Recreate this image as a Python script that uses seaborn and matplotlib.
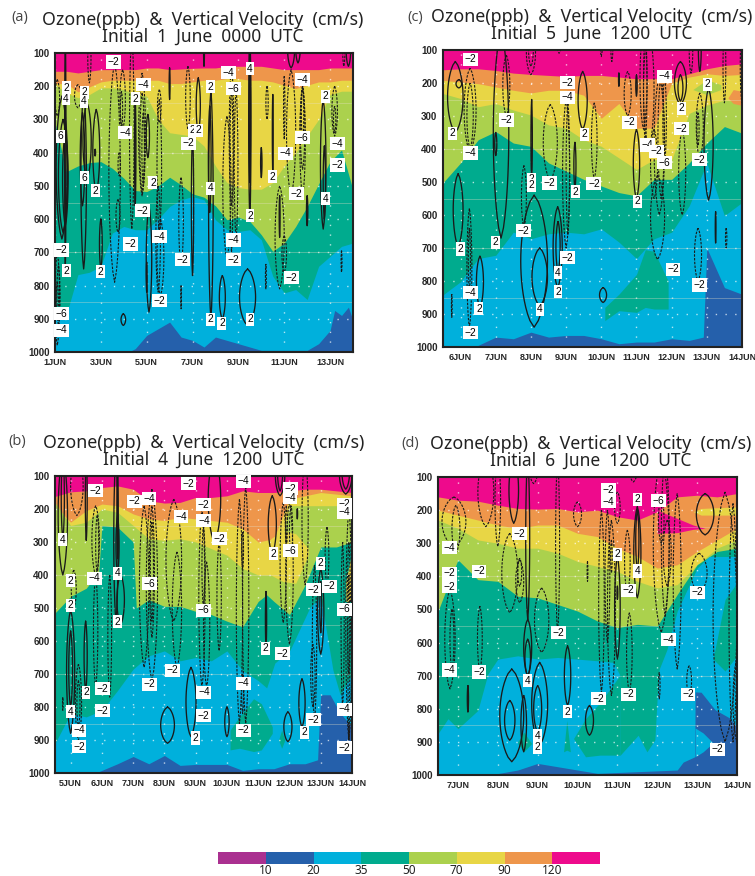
import numpy as np
import pandas as pd
import matplotlib
matplotlib.use("Agg")
import matplotlib.pyplot as plt
from matplotlib.colors import ListedColormap
import seaborn as sns

band_colors = ["#AA3090", "#2560AB", "#00B0DC", "#00AB8E", "#ABD14D", "#E8D645", "#EE964B", "#EE0A8C"]
band_labels = ["10", "20", "35", "50", "70", "90", "120"]
pressure_ticks = [100, 200, 300, 400, 500, 600, 700, 800, 900, 1000]

# ---- panel a: ozone band edges (hPa)
a_days = [1, 1.5, 2, 2.5, 3, 3.5, 4, 4.5, 5, 5.5, 6, 6.5, 7, 7.5, 8, 8.5, 9, 9.5, 10, 10.5, 11, 11.5, 12, 12.5, 13, 13.5, 14]
a_o120 = [155, 155, 160, 155, 150, 150, 150, 150, 145, 145, 150, 148, 146, 145, 145, 140, 140, 140, 140, 145, 150, 150, 150, 150, 145, 145, 145]
a_o90 = [192, 192, 217, 202, 187, 182, 182, 182, 182, 182, 192, 192, 187, 182, 182, 177, 177, 182, 182, 187, 197, 207, 197, 187, 187, 182, 182]
a_o70 = [195, 220, 235, 225, 205, 205, 210, 225, 230, 300, 340, 345, 350, 380, 440, 490, 505, 510, 510, 490, 440, 400, 350, 300, 225, 215, 215]
a_o50 = [310, 457, 440, 430, 427, 447, 477, 514, 517, 500, 474, 497, 524, 534, 560, 602, 594, 607, 647, 697, 672, 622, 562, 494, 427, 392, 512]
a_o35 = [892, 887, 767, 760, 742, 642, 622, 632, 632, 600, 562, 542, 532, 542, 602, 632, 637, 632, 662, 772, 822, 812, 842, 742, 712, 682, 672]
a_d20 = [1, 4.2, 4.5, 5, 5.5, 6, 6.5, 7, 7.5, 8, 8.5, 9, 9.5, 10, 12, 12.5, 13, 13.2, 13.5, 13.8, 14]
a_o20 = [1000, 1000, 990, 950, 930, 910, 955, 965, 985, 955, 965, 975, 985, 995, 995, 975, 935, 875, 890, 865, 905]

# ---- panel a: vertical velocity cells
a_w_day = [1.3, 1.35, 1.45, 1.45, 2.25, 2.2, 2.4, 2.8, 2.75, 3, 3.98, 4.5, 5.05, 5.1, 5, 6, 7, 7.25, 7.8, 7.75, 8.3, 9.4, 9.5, 9.5, 10, 10.5, 10.8, 12, 12.7, 12.75, 11.3, 11.6, 13.8, 7.5,
           1.1, 1.1, 1.15, 1.1, 2, 2.5, 3.6, 3.75, 3.95, 3.9, 3.8, 4.35, 4.8, 4.8, 4.85, 5.55, 5.55, 5.5, 5.6, 6.5, 6.5, 6.8, 8.5, 8.7, 8.7, 8.9, 10.25, 10.2, 11, 10.8, 11, 11.3, 11.8, 11.8, 11.8, 13.2, 13.2, 13.5, 13.6]
a_w_top = [230, 300, 340, 100, 210, 280, 250, 270, 390, 600, 885, 230, 285, 560, 730, 145, 340, 175, 210, 260, 770, 750, 100, 100, 385, 225, 530, 530, 240, 380, 100, 100, 100, 100,
           180, 700, 740, 790, 195, 100, 130, 540, 150, 215, 400, 100, 160, 220, 280, 240, 210, 500, 600, 475, 800, 140, 290, 140, 200, 210, 200, 735, 650, 500, 170, 150, 200, 200, 200, 200, 260, 695, 100]
a_w_bot = [660, 640, 620, 750, 750, 560, 480, 520, 410, 750, 920, 560, 415, 880, 820, 240, 770, 340, 900, 580, 900, 920, 600, 490, 475, 460, 655, 620, 630, 600, 145, 130, 140, 140,
           290, 980, 920, 900, 265, 190, 790, 640, 330, 330, 470, 630, 530, 520, 500, 640, 310, 820, 830, 740, 870, 330, 720, 560, 700, 660, 300, 810, 760, 810, 360, 530, 530, 450, 370, 350, 340, 760, 140]
a_w_wid = [.25, .2, .12, .03, .12, .1, .18, .15, .02, .06, .1, .03, .07, .12, .02, .02, .05, .09, .1, .06, .13, .35, .05, .03, .03, .02, .02, .03, .12, .05, .15, .1, .1, .02,
           .1, .1, .07, .05, .15, .07, .25, .09, .12, .05, .05, .1, .15, .1, .06, .1, .08, .1, .15, .1, .01, .1, .18, .1, .07, .08, .05, .02, .1, .2, .03, .2, .12, .1, .05, .12, .05, .02, .05]
a_w_val = [2, 4, 6, 2, 2, 4, 2, 2, 2, 2, 2, 2, 2, 2, 4, 2, 2, 2, 2, 4, 2, 2, 2, 4, 2, 2, 2, 2, 2, 4, 2, 2, 2, 2,
           -2, -2, -4, -6, -2, -2, -2, -2, -2, -4, -2, -2, -2, -4, -6, -2, -2, -4, -2, -2, -2, -2, -2, -2, -4, -6, -2, -2, -2, -2, -2, -2, -2, -4, -6, -2, -4, -2, -2]
a_lab_day = [3.55, 8.57, 9.51, 11.8, 4.86, 8.79, 1.51, 2.27, 7.77, 12.79, 1.48, 2.27, 4.52, 1.25, 4.06, 7.01, 7.26, 6.82, 11.8, 13.33, 11.04, 13.33, 2.27, 2.75, 5.27, 7.77, 10.5, 11.55, 12.79, 4.81, 9.51, 5.56, 4.3, 8.79, 1.29, 6.56, 8.79, 1.51, 3, 11.3, 5.56, 1.29, 1.29, 7.77, 8.28, 9.51]
a_lab_p = [127, 160, 147, 180, 195, 208, 205, 218, 202, 230, 238, 245, 238, 350, 340, 332, 332, 372, 355, 373, 402, 437, 475, 515, 490, 507, 472, 523, 538, 575, 590, 653, 675, 663, 693, 722, 722, 755, 758, 776, 845, 885, 935, 902, 913, 902]
a_lab_val = [-2, -4, 4, -4, -4, -6, 2, 2, 2, 2, 4, 4, 2, 6, -4, 2, 2, -2, -6, -4, -4, -2, 6, 2, 2, 4, 2, -2, 4, -2, 2, -4, -2, -4, -2, -2, -2, 2, 2, -2, -2, -6, -4, 2, 2, 2]

# ---- panel b
b_days = [4.5, 5, 5.5, 6, 6.5, 7, 7.5, 8, 8.5, 9, 9.5, 10, 10.5, 11, 11.5, 12, 12.5, 13, 13.5, 14]
b_o120 = [162, 148, 145, 135, 130, 140, 175, 182, 180, 165, 165, 160, 145, 150, 150, 145, 140, 140, 145, 150]
b_o90 = [190, 240, 205, 185, 190, 215, 230, 235, 225, 230, 235, 240, 260, 300, 290, 170, 160, 150, 155, 160]
b_o70 = [180, 250, 240, 200, 210, 250, 290, 295, 290, 300, 320, 340, 380, 400, 400, 190, 190, 190, 190, 190]
b_d50 = [4.5, 5, 5.5, 5.9, 6, 6.5, 7, 7.1, 7.5, 8, 8.5, 9, 9.5, 10, 10.5, 11, 11.27, 11.5, 12, 12.5, 13, 13.5, 14]
b_o50 = [515, 465, 440, 390, 250, 255, 300, 500, 475, 495, 495, 510, 520, 540, 557, 480, 460, 480, 520, 430, 315, 315, 300]
b_d35 = [4.5, 5, 5.5, 6, 6.5, 7, 7.5, 8, 8.5, 9, 9.5, 10, 10.5, 11, 11.27, 11.53, 12.02, 12.66, 13, 13.2, 13.39, 13.62, 14]
b_o35 = [910, 820, 830, 810, 750, 685, 645, 630, 660, 650, 660, 630, 690, 720, 742, 667, 627, 497, 466, 580, 688, 763, 700]
b_d20 = [4.5, 5.8, 6.5, 7, 7.5, 8, 8.5, 9, 10, 10.5, 11, 11.5, 12, 12.5, 12.9, 12.95, 13, 13.3, 13.62, 14]
b_o20 = [1000, 1000, 972, 950, 972, 947, 977, 974, 974, 992, 987, 987, 972, 972, 960, 850, 763, 763, 818, 860]
b_isl1_days = [10.1, 10.4, 10.85, 11.1, 11.45]
b_isl1_top = [870, 830, 775, 790, 860]
b_isl1_bot = [930, 925, 935, 930, 880]
b_isl2_days = [11.65, 11.75, 11.85]
b_isl2_top = [900, 870, 900]
b_isl2_bot = [900, 925, 900]
b_isl3_days = [11.4, 11.8, 12.2, 12.6]
b_isl3_top = [290, 265, 275, 320]
b_isl3_bot = [400, 420, 425, 340]
b_isl4_days = [13.8, 14]
b_isl4_top = [420, 330]
b_isl4_bot = [480, 480]

b_w_day = [4.75, 4.75, 5.5, 5, 5, 5.48, 6.45, 6.5, 6.6, 6.5, 8.1, 8.85, 10, 9.6, 11.25, 11.45, 11.95, 12.4, 13, 13, 12.25, 11.7, 11.7, 13.8, 13.8,
           5.2, 5.8, 5.85, 5.1, 5.25, 5.25, 4.75, 5.8, 6.25, 7.35, 7.6, 7.6, 7.6, 8.3, 8.4, 9.2, 9.25, 9.35, 9.75, 10.4, 10.5, 10.6, 10.5, 11.8, 12, 12.05, 11.9, 12.5, 12.8, 13.2, 13.7, 13.9, 13.9, 13.9, 12.75]
b_w_top = [100, 100, 100, 505, 570, 540, 100, 220, 400, 100, 800, 680, 800, 100, 450, 160, 815, 715, 380, 420, 200, 100, 100, 100, 100,
           100, 190, 220, 385, 670, 720, 770, 400, 400, 190, 140, 190, 240, 170, 330, 200, 250, 360, 300, 170, 270, 130, 700, 180, 180, 190, 190, 100, 370, 255, 300, 200, 300, 400, 610]
b_w_bot = [400, 290, 295, 880, 800, 750, 540, 400, 550, 350, 910, 890, 890, 300, 620, 335, 905, 860, 640, 575, 230, 160, 145, 155, 140,
           220, 400, 395, 500, 900, 860, 810, 740, 770, 680, 720, 590, 540, 540, 680, 740, 500, 740, 630, 850, 380, 850, 820, 545, 610, 340, 320, 430, 840, 430, 800, 900, 700, 900, 800]
b_w_wid = [.15, .05, .03, .13, .06, .05, .07, .05, .12, .02, .22, .16, .07, .2, .02, .13, .13, .1, .1, .03, .01, .15, .08, .2, .12,
           .2, .12, .05, .08, .1, .05, .01, .07, .06, .15, .18, .08, .05, .25, .15, .1, .05, .1, .07, .1, .03, .1, .03, .1, .12, .05, .03, .1, .07, .06, .05, .1, .05, .03, .07]
b_w_val = [2, 4, 2, 2, 4, 2, 2, 4, 2, 2, 2, 2, 2, 2, 2, 2, 2, 2, 2, 4, 2, 2, 4, 2, 4,
           -2, -2, -4, -2, -2, -4, -2, -2, -2, -2, -2, -4, -6, -2, -2, -2, -4, -2, -2, -2, -4, -2, -4, -2, -2, -4, -6, -2, -2, -2, -2, -2, -4, -6, -2]
b_lab_day = [5.8, 7.03, 7.51, 8.78, 10.53, 12.02, 12.02, 9.26, 8.53, 9.26, 13.77, 13.77, 4.73, 9.77, 11.49, 12.02, 12.99, 6.49, 5, 5.77, 7.51, 12.76, 13.27, 5, 9.26, 13.77, 6.49, 11.24, 11.77, 8.27, 7.51, 10.53, 5.49, 6.02, 9.26, 6.02, 5, 13.77, 9.26, 12.76, 5.27, 10.53, 12.49, 5.27, 13.77, 8.99]
b_lab_p = [145, 177, 169, 124, 116, 139, 166, 187, 223, 236, 186, 210, 293, 290, 335, 326, 365, 395, 418, 410, 427, 444, 434, 492, 507, 504, 541, 622, 638, 689, 731, 728, 756, 744, 755, 811, 814, 807, 826, 838, 870, 871, 877, 921, 924, 894]
b_lab_val = [-2, -2, -4, -2, -4, -2, -4, -2, -4, -4, -2, -4, 4, -2, 2, -6, 2, 4, 2, -4, -6, -2, -2, 2, -6, -6, 2, 2, -2, -2, -2, -4, 2, -2, -4, -2, 4, -4, -2, -2, -4, -2, 2, -2, -2, 2]

# ---- panel c
c_days = [5.5, 6, 6.5, 7, 7.5, 8, 8.5, 9, 9.5, 10, 10.5, 11, 11.5, 12, 12.5, 13, 13.5, 14]
c_o120 = [160, 157, 157, 162, 170, 174, 177, 180, 177, 177, 182, 187, 187, 187, 172, 157, 147, 142]
c_o90 = [192, 197, 202, 212, 222, 230, 222, 222, 237, 307, 262, 337, 337, 200, 182, 172, 177, 174]
c_o70 = [232, 247, 272, 262, 282, 297, 327, 337, 372, 392, 427, 462, 432, 432, 292, 267, 252, 257]
c_o50 = [502, 442, 372, 347, 382, 392, 442, 467, 492, 512, 532, 542, 492, 492, 442, 382, 332, 352]
c_o35 = [842, 802, 732, 722, 652, 672, 657, 652, 657, 642, 682, 732, 672, 652, 572, 442, 602, 562]
c_d20 = [5.5, 6.4, 7, 7.5, 8, 8.5, 9, 9.5, 10, 10.5, 11, 11.5, 12, 12.5, 12.9, 13, 13.5, 14]
c_o20 = [1000, 1000, 970, 975, 955, 970, 965, 965, 975, 990, 985, 985, 975, 980, 970, 700, 820, 840]
c_isl1_days = [10.1, 10.5, 11, 11.25, 11.5, 11.9]
c_isl1_top = [880, 840, 780, 705, 710, 800]
c_isl1_bot = [920, 890, 895, 880, 885, 885]
c_isl2_days = [13.6, 13.75, 14]
c_isl2_top = [245, 220, 225]
c_isl2_bot = [245, 262, 268]
c_isl3_days = [12.6, 13, 13.4]
c_isl3_top = [220, 190, 205]
c_isl3_bot = [220, 235, 220]

c_w_day = [5.85, 5.95, 5.93, 6.55, 7.15, 7, 8.02, 8.09, 8.25, 8.76, 8.77, 9.25, 9.47, 10.05, 10.5, 11, 11, 12.25, 12.25, 13.05, 13.25, 12.8,
           6.27, 6.27, 6.25, 6.25, 5.75, 7.3, 7.8, 8.55, 9, 9.05, 9.8, 10.75, 11.2, 11.25, 11.35, 11.65, 11.7, 11.8, 11.5, 11.6, 12.3, 12.8, 12.75, 12.75, 13.55, 13.5, 14, 8, 8, 8.8, 10, 10.3, 12.55]
c_w_top = [135, 190, 475, 725, 100, 350, 250, 540, 700, 575, 620, 380, 165, 820, 170, 175, 340, 135, 175, 215, 590, 100,
           155, 200, 580, 640, 840, 115, 450, 265, 250, 260, 260, 165, 100, 100, 100, 180, 180, 180, 340, 480, 340, 230, 290, 640, 640, 100, 100, 100, 100, 100, 100, 100, 100]
c_w_bot = [350, 215, 695, 880, 670, 420, 490, 940, 875, 820, 770, 520, 340, 865, 210, 240, 550, 265, 255, 555, 685, 165,
           410, 400, 940, 830, 910, 300, 640, 495, 700, 660, 490, 300, 340, 380, 400, 600, 550, 440, 550, 735, 600, 430, 390, 800, 700, 260, 260, 175, 150, 110, 120, 135, 170]
c_w_wid = [.22, .08, .14, .1, .22, .03, .02, .38, .22, .13, .06, .03, .13, .1, .01, .02, .09, .17, .07, .13, .01, .04,
           .17, .09, .07, .03, .01, .1, .07, .2, .1, .05, .08, .1, .1, .05, .15, .15, .09, .05, .1, .2, .1, .1, .03, .1, .02, .04, .05, .13, .07, .07, .03, .03, .05]
c_w_val = [2, 2, 2, 2, 2, 4, 2, 2, 4, 2, 4, 2, 2, 2, 2, 2, 2, 2, 4, 2, 2, 2,
           -2, -4, -2, -4, -2, -2, -2, -2, -2, -4, -2, -2, -2, -4, -2, -2, -4, -6, -2, -2, -2, -2, -4, -2, -2, -2, -2, -2, -4, -2, -2, -2, -2]
c_lab_day = [6.29, 9.04, 9.04, 11.79, 13.02, 12.28, 12.29, 7.31, 10.79, 5.76, 9.52, 11.31, 11.57, 6.29, 11.79, 12.79, 8.02, 8.02, 8.53, 9.79, 9.26, 11.02, 7.79, 6, 7, 9.04, 12.04, 8.77, 12.79, 6.29, 8.77, 6.52, 8.26, 6.29]
c_lab_p = [128, 199, 243, 179, 204, 276, 338, 312, 319, 352, 355, 388, 407, 412, 441, 433, 492, 510, 503, 505, 530, 559, 648, 703, 682, 730, 765, 775, 812, 836, 833, 884, 886, 957]
c_lab_val = [-2, -2, -4, -4, 2, 2, -2, -2, -2, 2, 2, -4, -2, -4, -6, -2, 2, 2, -2, -2, 2, 2, -2, 2, 2, -2, -2, 4, -2, -4, 2, 2, 4, -2]

# ---- panel d
d_days = [6.5, 7, 7.5, 8, 8.5, 9, 9.5, 10, 10.5, 11, 11.5, 12, 12.5, 13, 13.5, 14]
d_o120 = [160, 170, 173, 185, 195, 197, 195, 205, 200, 220, 230, 205, 160, 155, 160, 150]
d_o90 = [200, 215, 230, 245, 255, 245, 245, 270, 280, 315, 340, 375, 365, 325, 290, 255]
d_o70 = [230, 255, 290, 300, 315, 315, 330, 355, 370, 385, 415, 435, 425, 365, 315, 290]
d_o50 = [505, 350, 410, 415, 460, 465, 485, 505, 535, 555, 545, 550, 455, 365, 325, 315]
d_d35 = [6.5, 6.75, 7, 7.5, 7.75, 8, 8.5, 9, 9.5, 10, 10.5, 10.9, 11.06, 11.07, 11.52, 11.74, 11.94, 12, 12.05, 12.24, 12.5, 13, 13.3, 14]
d_o35 = [875, 830, 860, 805, 695, 650, 640, 650, 645, 650, 655, 660, 698, 940, 880, 930, 894, 760, 680, 622, 505, 375, 340, 340]
d_d20 = [6.5, 7.8, 8.5, 9, 9.5, 10, 10.5, 12.5, 12.65, 12.94, 12.95, 13.1, 13.45, 13.82, 14]
d_o20 = [1000, 1000, 985, 965, 975, 985, 995, 985, 961, 945, 749, 750, 803, 828, 855]
d_isl1_days = [13.4, 13.7, 14]
d_isl1_top = [650, 470, 420]
d_isl1_bot = [650, 686, 640]
d_isl2_days = [9.65, 9.73, 9.82]
d_isl2_top = [930, 835, 930]
d_isl2_bot = [930, 925, 930]
d_isl3_days = [12, 12.5, 12.9, 13.2]
d_isl3_top = [200, 225, 245, 255]
d_isl3_bot = [270, 268, 258, 255]
d_isl4_days = [12.9, 13.1, 14]
d_isl4_top = [205, 195, 190]
d_isl4_bot = [205, 215, 215]
d_isl5_days = [9.9, 10.2, 10.56, 11.07]
d_isl5_top = [890, 830, 782, 698]
d_isl5_bot = [890, 945, 940, 940]
d_isl6_days = [8.5, 8.65, 8.85]
d_isl6_top = [900, 870, 905]
d_isl6_bot = [905, 930, 905]
d_isl7_days = [12.95, 13.15, 13.4]
d_isl7_top = [858, 873, 903]
d_isl7_bot = [945, 930, 903]

d_w_day = [7.25, 8.35, 8.3, 8.75, 8.75, 8.65, 8.4, 8.75, 9, 9.05, 9.75, 10.3, 11, 11, 11.5, 11.5, 13.2,
           6.9, 6.95, 6.8, 6.85, 7.55, 7.7, 8, 8.3, 8.55, 8.55, 9.1, 9.5, 10, 10.25, 10.6, 10.75, 10.85, 10.85, 11, 11.25, 11.3, 12.1, 12.2, 12.25, 12.1, 12.5, 12.8, 12.05, 13.05, 13.7, 13.9, 14, 11.4, 8.9]
d_w_top = [730, 680, 775, 530, 590, 760, 100, 100, 730, 660, 610, 790, 340, 430, 190, 200, 150,
           160, 185, 440, 500, 490, 100, 100, 270, 345, 350, 435, 100, 175, 355, 200, 200, 230, 290, 145, 260, 510, 100, 100, 230, 160, 150, 670, 690, 330, 145, 180, 650, 100, 100]
d_w_bot = [810, 960, 895, 700, 700, 930, 240, 530, 870, 910, 790, 880, 650, 470, 465, 380, 275,
           310, 330, 740, 680, 685, 250, 310, 510, 430, 480, 630, 570, 250, 415, 750, 600, 760, 390, 240, 450, 750, 570, 520, 430, 300, 680, 760, 770, 450, 900, 900, 900, 115, 120]
d_w_wid = [.015, .3, .13, .1, .07, .07, .12, .05, .1, .2, .08, .1, .07, .01, .09, .04, .22,
           .3, .1, .13, .05, .06, .2, .07, .2, .05, .1, .18, .05, .1, .01, .07, .06, .1, .02, .07, .07, .07, .2, .1, .1, .07, .1, .06, .02, .2, .3, .1, .1, .1, .1]
d_w_val = [2, 2, 2, 2, 4, 2, 2, 2, 4, 2, 2, 2, 2, 4, 2, 4, 2,
           -2, -2, -2, -4, -2, -2, -2, -2, -4, -2, -2, -2, -2, -2, -2, -2, -2, -4, -2, -2, -2, -2, -2, -2, -4, -2, -2, -2, -2, -2, -2, -2, -2, -2]
d_lab_day = [10.78, 10.78, 11.5, 12.03, 8.54, 6.78, 11, 7.53, 6.78, 6.78, 11.5, 11.28, 13.01, 9.52, 12.28, 6.78, 7.53, 8.75, 11.28, 12.77, 10.52, 9.75, 9, 9, 13.52]
d_lab_p = [139, 174, 167, 171, 272, 313, 334, 385, 391, 431, 384, 442, 448, 570, 591, 683, 689, 715, 756, 756, 769, 809, 881, 916, 922]
d_lab_val = [-2, -4, 2, -6, -2, -4, 2, -2, -2, -2, 4, -2, -2, -2, -4, -4, -2, 4, -2, -2, -2, 2, 4, 2, -2]


def cell_outline(day, top, bot, wid):
    # narrow closed contour around one velocity cell
    if top <= 100:
        top = 40
    s = np.linspace(-1, 1, 21)
    half = wid * (1 - s ** 2) ** 0.7
    mid = (top + bot) / 2
    ys = mid + s * (bot - top) / 2
    return np.r_[day - half, day + half[::-1]], np.r_[ys, ys[::-1]]


def draw_panel(box, xlim, tick_days, title1, title2, bands, islands, cells, labels, letter, letter_xy):
    left, top, right, bot = box
    ax = fig.add_axes([left / W, 1 - bot / H, (right - left) / W, (bot - top) / H])
    ax.set_facecolor(band_colors[7])
    for (days, edge), col in zip(bands, band_colors[6:0:-1]):
        ax.fill_between(days, edge, 1000, color=col, lw=0, zorder=1)
    for days, up, low, idx in islands:
        ax.fill_between(days, up, low, color=band_colors[idx], lw=0, zorder=1.5)

    ax.set_xlim(*xlim)
    ax.set_ylim(1000, 100)
    # GrADS style dotted grid plus the faint level lines
    for p in pressure_ticks[1:-1]:
        ax.axhline(p, color="white", lw=1, ls=(0, (1, 6)), alpha=.7, zorder=2)
    for d in tick_days:
        ax.axvline(d, color="white", lw=1, ls=(0, (1, 6)), alpha=.7, zorder=2)
    for p in [250, 400, 550, 700, 850]:
        ax.axhline(p, color="#e8e0c8", lw=.6, alpha=.4, zorder=2)

    rows = []
    for n, (day, t, b, wd, val) in enumerate(zip(*cells)):
        xs, ys = cell_outline(day, t, b, wd)
        rows.append(pd.DataFrame({"day": xs, "p": ys, "id": n, "val": val}))
    df = pd.concat(rows)
    sns.lineplot(data=df[df.val > 0], x="day", y="p", units="id", estimator=None, sort=False,
                 color="#1a1a1a", lw=.95, ax=ax, legend=False, zorder=3)
    sns.lineplot(data=df[df.val < 0], x="day", y="p", units="id", estimator=None, sort=False,
                 color="#1a1a1a", lw=.8, linestyle=(0, (2.2, 1.2)), ax=ax, legend=False, zorder=3)

    for d, p, v in zip(*labels):
        txt = ("\u2212" + str(-v)) if v < 0 else str(v)
        ax.text(d, p, txt, fontsize=7.4, ha="center", va="center", color="black", zorder=5,
                family="Liberation Sans",
                bbox=dict(facecolor="white", edgecolor="none", pad=1.1))

    ax.set_xlabel("")
    ax.set_ylabel("")
    ax.set_yticks(pressure_ticks)
    ax.set_yticklabels([str(p) for p in pressure_ticks], fontsize=7, fontweight="bold", family="Liberation Sans")
    ax.set_xticks(tick_days)
    ax.set_xticklabels([f"{d}JUN" for d in tick_days], fontsize=6.5, fontweight="bold", family="Liberation Sans")
    ax.tick_params(length=2.5, width=.8, pad=1.5, color="black")
    for s in ax.spines.values():
        s.set_visible(True)
        s.set_linewidth(1.5)
        s.set_color("#222222")

    cx = (left + right) / 2 + title1[1]
    fig.text(cx / W, 1 - title1[2] / H, title1[0], fontsize=12.8, ha="center", va="center", family="Noto Sans", color="#222222")
    fig.text(cx / W, 1 - (title1[2] + 17) / H, title2, fontsize=12.5, ha="center", va="center", family="Noto Sans", color="#222222")
    fig.text(letter_xy[0] / W, 1 - letter_xy[1] / H, letter, fontsize=10.5, ha="left", va="center", family="Open Sans", color="#444444")


W, H = 755, 876
sns.set_style("white")
fig = plt.figure(figsize=(W / 100, H / 100), dpi=100, facecolor="white")

TITLE = "Ozone(ppb)  &  Vertical Velocity  (cm/s)"

draw_panel((55, 53, 353, 352), (1, 14), [1, 3, 5, 7, 9, 11, 13],
           (TITLE, -1, 20), "Initial  1  June  0000  UTC",
           [(a_days, a_o120), (a_days, a_o90), (a_days, a_o70), (a_days, a_o50), (a_days, a_o35), (a_d20, a_o20)],
           [], (a_w_day, a_w_top, a_w_bot, a_w_wid, a_w_val), (a_lab_day, a_lab_p, a_lab_val), "(a)", (11, 18))

draw_panel((443, 50, 742, 347), (5.5, 14), [6, 7, 8, 9, 10, 11, 12, 13, 14],
           (TITLE, -1, 17), "Initial  5  June  1200  UTC",
           [(c_days, c_o120), (c_days, c_o90), (c_days, c_o70), (c_days, c_o50), (c_days, c_o35), (c_d20, c_o20)],
           [(c_isl1_days, c_isl1_top, c_isl1_bot, 3), (c_isl2_days, c_isl2_top, c_isl2_bot, 6), (c_isl3_days, c_isl3_top, c_isl3_bot, 4)],
           (c_w_day, c_w_top, c_w_bot, c_w_wid, c_w_val), (c_lab_day, c_lab_p, c_lab_val), "(c)", (407, 17))

draw_panel((55, 476, 352, 773), (4.5, 14), [5, 6, 7, 8, 9, 10, 11, 12, 13, 14],
           (TITLE, 0, 443), "Initial  4  June  1200  UTC",
           [(b_days, b_o120), (b_days, b_o90), (b_days, b_o70), (b_d50, b_o50), (b_d35, b_o35), (b_d20, b_o20)],
           [(b_isl1_days, b_isl1_top, b_isl1_bot, 3), (b_isl2_days, b_isl2_top, b_isl2_bot, 3), (b_isl3_days, b_isl3_top, b_isl3_bot, 5), (b_isl4_days, b_isl4_top, b_isl4_bot, 5)],
           (b_w_day, b_w_top, b_w_bot, b_w_wid, b_w_val), (b_lab_day, b_lab_p, b_lab_val), "(b)", (8, 441))

draw_panel((438, 477, 737, 775), (6.5, 14), [7, 8, 9, 10, 11, 12, 13, 14],
           (TITLE, 3, 444), "Initial  6  June  1200  UTC",
           [(d_days, d_o120), (d_days, d_o90), (d_days, d_o70), (d_days, d_o50), (d_d35, d_o35), (d_d20, d_o20)],
           [(d_isl1_days, d_isl1_top, d_isl1_bot, 3), (d_isl2_days, d_isl2_top, d_isl2_bot, 3), (d_isl3_days, d_isl3_top, d_isl3_bot, 7), (d_isl4_days, d_isl4_top, d_isl4_bot, 5),
            (d_isl5_days, d_isl5_top, d_isl5_bot, 3), (d_isl6_days, d_isl6_top, d_isl6_bot, 3), (d_isl7_days, d_isl7_top, d_isl7_bot, 2)],
           (d_w_day, d_w_top, d_w_bot, d_w_wid, d_w_val), (d_lab_day, d_lab_p, d_lab_val), "(d)", (401, 443))

# colour key along the bottom
cax = fig.add_axes([218 / W, 1 - 864 / H, 382 / W, 12 / H])
sns.heatmap(np.arange(len(band_colors)).reshape(1, -1), cmap=ListedColormap(band_colors), cbar=False, ax=cax,
            linewidths=0, xticklabels=False, yticklabels=False)
cax.set_xticks(np.arange(1, len(band_colors)))
cax.set_xticklabels(band_labels, fontsize=8.5, family="Noto Sans", color="#222222")
cax.tick_params(length=0, pad=0)

fig.savefig("out.png", dpi=100)
